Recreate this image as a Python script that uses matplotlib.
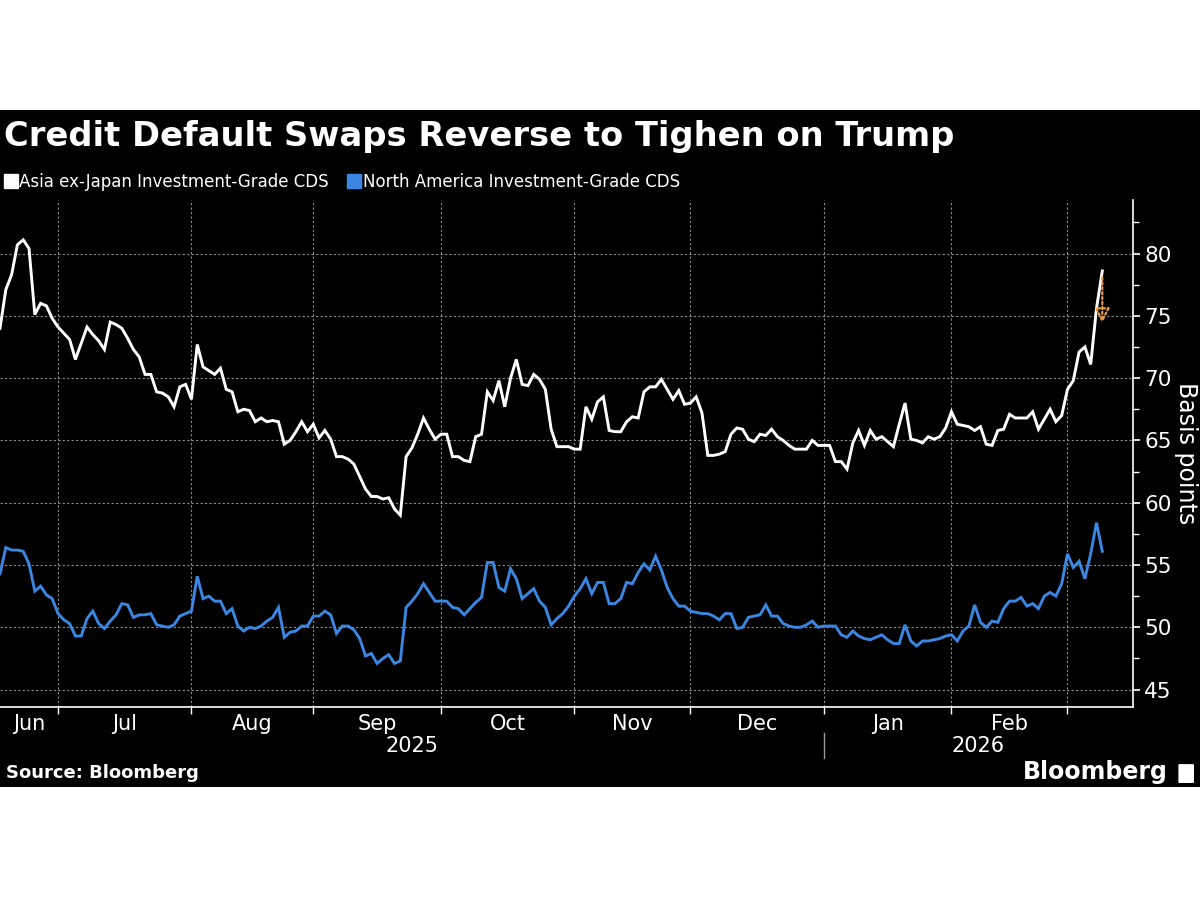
import numpy as np
import pandas as pd
import matplotlib
matplotlib.use('Agg')
import matplotlib.pyplot as plt
import matplotlib.transforms as mtransforms
from matplotlib.patches import Rectangle, FancyBboxPatch
from matplotlib.lines import Line2D

# daily values (business days from 17 Jun 2025)
asia = [74.0, 77.1, 78.3, 80.7, 81.1, 80.4, 75.1, 76.0, 75.8, 74.8,
        74.1, 73.6, 73.1, 71.5, 72.8, 74.1, 73.5, 73.0, 72.3, 74.5,
        74.3, 74.0, 73.2, 72.3, 71.7, 70.3, 70.3, 68.9, 68.8, 68.5,
        67.7, 69.3, 69.5, 68.3, 72.7, 70.9, 70.6, 70.3, 70.8, 69.1,
        68.9, 67.3, 67.5, 67.4, 66.5, 66.8, 66.5, 66.6, 66.5, 64.7,
        65.0, 65.7, 66.5, 65.7, 66.3, 65.2, 65.8, 65.1, 63.7, 63.7,
        63.5, 63.1, 62.1, 61.1, 60.5, 60.5, 60.3, 60.4, 59.5, 59.0,
        63.7, 64.4, 65.5, 66.8, 65.9, 65.1, 65.5, 65.5, 63.7, 63.7,
        63.4, 63.3, 65.3, 65.5, 68.9, 68.2, 69.8, 67.7, 70.0, 71.5,
        69.5, 69.4, 70.3, 69.9, 69.1, 65.9, 64.5, 64.5, 64.5, 64.3,
        64.3, 67.7, 66.7, 68.1, 68.5, 65.8, 65.7, 65.7, 66.5, 66.9,
        66.8, 68.9, 69.3, 69.3, 69.9, 69.1, 68.3, 69.0, 67.9, 68.0,
        68.5, 67.2, 63.8, 63.8, 63.9, 64.1, 65.5, 66.0, 65.9, 65.1,
        64.9, 65.5, 65.4, 65.9, 65.3, 65.0, 64.6, 64.3, 64.3, 64.3,
        65.0, 64.6, 64.6, 64.6, 63.3, 63.3, 62.7, 64.8, 65.8, 64.6,
        65.8, 65.1, 65.3, 64.9, 64.5, 66.3, 68.0, 65.1, 65.0, 64.8,
        65.3, 65.1, 65.3, 66.0, 67.3, 66.3, 66.2, 66.1, 65.8, 66.1,
        64.7, 64.6, 65.8, 65.9, 67.1, 66.8, 66.8, 66.8, 67.3, 65.9,
        66.7, 67.5, 66.5, 67.0, 69.1, 69.8, 72.1, 72.5, 71.1, 75.6,
        78.6]

north_america = [54.3, 56.4, 56.2, 56.2, 56.1, 55.1, 52.9, 53.3, 52.6, 52.3,
                 51.1, 50.6, 50.3, 49.3, 49.3, 50.7, 51.3, 50.3, 49.9, 50.5,
                 51.0, 51.9, 51.8, 50.8, 51.0, 51.0, 51.1, 50.2, 50.1, 50.0,
                 50.2, 50.9, 51.1, 51.3, 54.1, 52.3, 52.5, 52.1, 52.1, 51.1,
                 51.5, 50.1, 49.7, 50.0, 49.9, 50.1, 50.5, 50.8, 51.6, 49.2,
                 49.6, 49.7, 50.1, 50.1, 50.9, 50.9, 51.3, 51.0, 49.5, 50.1,
                 50.1, 49.8, 49.1, 47.7, 47.9, 47.1, 47.5, 47.8, 47.1, 47.3,
                 51.6, 52.1, 52.7, 53.5, 52.8, 52.1, 52.1, 52.1, 51.6, 51.5,
                 51.0, 51.5, 52.0, 52.4, 55.2, 55.2, 53.2, 52.9, 54.7, 53.9,
                 52.3, 52.7, 53.1, 52.1, 51.6, 50.2, 50.7, 51.1, 51.7, 52.5,
                 53.1, 53.9, 52.7, 53.6, 53.6, 51.9, 51.9, 52.3, 53.6, 53.5,
                 54.4, 55.1, 54.6, 55.7, 54.6, 53.2, 52.3, 51.7, 51.7, 51.3,
                 51.2, 51.1, 51.1, 50.9, 50.6, 51.1, 51.1, 49.9, 50.0, 50.8,
                 50.9, 51.0, 51.8, 50.9, 50.9, 50.3, 50.1, 50.0, 50.0, 50.2,
                 50.5, 50.0, 50.1, 50.1, 50.1, 49.4, 49.2, 49.7, 49.3, 49.1,
                 49.0, 49.2, 49.4, 49.0, 48.7, 48.7, 50.2, 48.9, 48.5, 48.9,
                 48.9, 49.0, 49.1, 49.3, 49.4, 48.9, 49.7, 50.1, 51.8, 50.4,
                 50.0, 50.5, 50.4, 51.5, 52.1, 52.1, 52.4, 51.7, 51.9, 51.5,
                 52.5, 52.8, 52.5, 53.5, 55.9, 54.8, 55.3, 53.9, 55.9, 58.4,
                 56.1]

dates = pd.bdate_range('2025-06-17', periods=len(asia))
labels = ['Asia ex-Japan Investment-Grade CDS', 'North America Investment-Grade CDS']
title = 'Credit Default Swaps Reverse to Tighen on Trump'
# dotted arrow drawn on the last point (from, to)
arrow_from = 78.3
arrow_to = 74.2

white = '#ffffff'
blue = '#3a86e0'
grid_col = '#8c8c8c'

fig = plt.figure(figsize=(12, 9), dpi=100, facecolor='white')
fig.add_artist(Rectangle((0, 0.1256), 1, 0.7522, transform=fig.transFigure,
                         facecolor='black', edgecolor='none', zorder=0))

ax = fig.add_axes([0, 0.2144, 0.9442, 0.5634])
ax.set_facecolor('black')

x = np.arange(len(dates))
ax.plot(x, asia, color=white, lw=2.1, solid_joinstyle='miter', zorder=3)
ax.plot(x, north_america, color=blue, lw=2.1, solid_joinstyle='miter', zorder=3)

ax.annotate('', xy=(x[-1], arrow_to), xytext=(x[-1], arrow_from),
            arrowprops=dict(arrowstyle='-|>', color='#e39a45', lw=1.6,
                            ls=(0, (1, 1.2)), mutation_scale=22, fill=False),
            zorder=4)

ax.set_xlim(0, 195.3)
ax.set_ylim(43.6, 84.3)

# month boundaries
months = dates.to_period('M')
bounds = [i for i in range(1, len(dates)) if months[i] != months[i - 1]]
edges = [0] + bounds
mids = [(edges[i] + edges[i + 1]) / 2 for i in range(len(edges) - 1)]
mid_lbls = [dates[edges[i]].strftime('%b') for i in range(len(edges) - 1)]

ax.set_xticks(bounds)
ax.set_xticklabels([])
ax.set_xticks(mids, minor=True)
ax.set_xticklabels(mid_lbls, minor=True)
ax.tick_params(axis='x', which='major', direction='out', length=5, color=white, width=1)
ax.tick_params(axis='x', which='minor', length=0, pad=5, labelsize=15, labelcolor=white)

ax.yaxis.tick_right()
ax.yaxis.set_label_position('right')
ax.set_yticks(np.arange(45, 81, 5))
ax.set_yticks(np.arange(47.5, 84, 5), minor=True)
ax.tick_params(axis='y', which='major', direction='out', length=5, width=1.2,
               color=white, labelcolor=white, labelsize=15.5, pad=3)
ax.tick_params(axis='y', which='minor', direction='out', length=4, width=1, color=white)
ax.set_ylabel('Basis points', color=white, fontsize=17, rotation=-90,
              va='center', ha='center')
ax.yaxis.set_label_coords(1.047, 0.5)

ax.grid(True, which='major', color=grid_col, ls=(0, (2, 2)), lw=0.8, zorder=1)
for s in ['top', 'left']:
    ax.spines[s].set_visible(False)
ax.spines['right'].set_color(white)
ax.spines['bottom'].set_color(white)
ax.spines['right'].set_linewidth(1.2)
ax.spines['bottom'].set_linewidth(1.2)

# year labels under the months
tr = mtransforms.blended_transform_factory(ax.transData, fig.transFigure)
year_start = [0] + [b for b in bounds if dates[b].month == 1]
year_end = year_start[1:] + [ax.get_xlim()[1]]
for s, e in zip(year_start, year_end):
    ax.text((s + e) / 2, 0.171, str(dates[s].year), transform=tr, ha='center', va='center',
            color=white, fontsize=15)
for b in year_start[1:]:
    ax.add_line(Line2D([b, b], [0.158, 0.186], transform=tr, color='#9a9a9a', lw=1,
                       clip_on=False))

fig.text(0.003, 0.848, title, color=white, fontsize=24.3, fontweight='bold', va='center', ha='left')

handles = [Line2D([], [], marker='s', ls='none', color=white, markersize=10),
           Line2D([], [], marker='s', ls='none', color=blue, markersize=10)]
fig.legend(handles, labels, loc='center left', bbox_to_anchor=(0.004, 0.798), ncol=2,
           frameon=False, handlelength=0.7, handletextpad=0.15, columnspacing=1.2,
           fontsize=12, labelcolor=white, borderaxespad=0, borderpad=0)

fig.text(0.005, 0.141, 'Source: Bloomberg', color=white, fontsize=13, fontweight='bold',
         va='center', ha='left')
fig.text(0.973, 0.142, 'Bloomberg', color=white, fontsize=17, fontweight='bold',
         va='center', ha='right')
fig.add_artist(FancyBboxPatch((0.983, 0.131), 0.011, 0.019, boxstyle='round,pad=0.001',
                              transform=fig.transFigure, facecolor=white, edgecolor='none'))

fig.savefig('out.png', dpi=100, facecolor='white')
